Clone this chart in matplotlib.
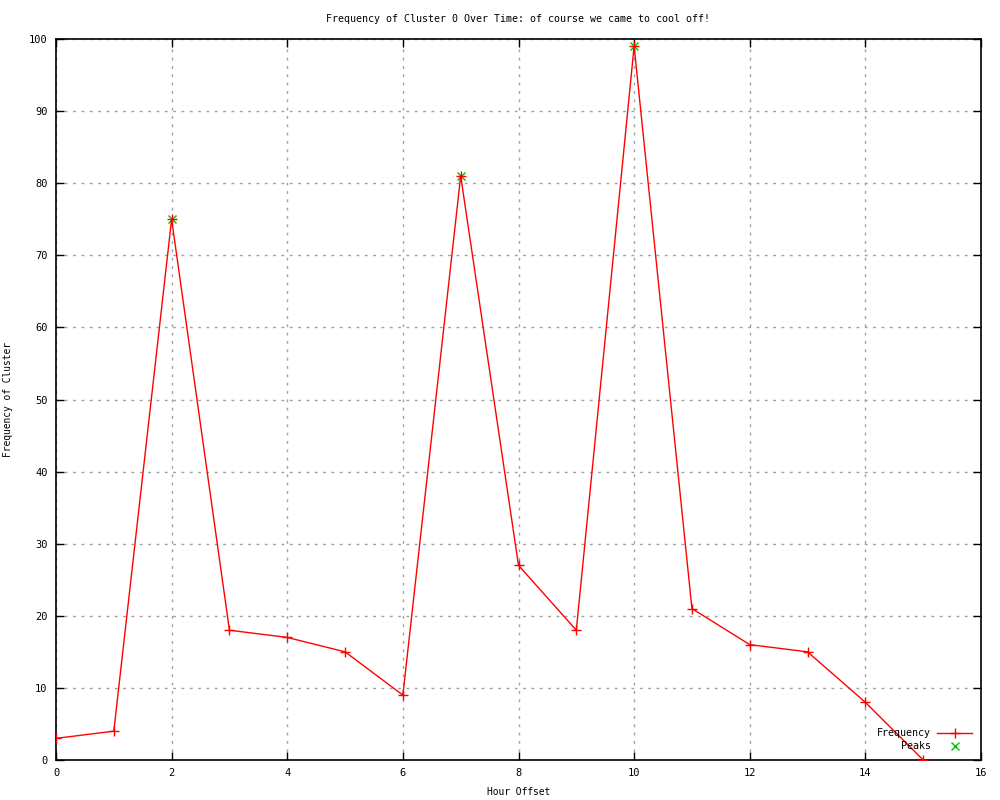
import matplotlib
matplotlib.use("Agg")
import matplotlib.pyplot as plt

hours = list(range(16))
freq = [3, 4, 75, 18, 17, 15, 9, 81, 27, 18, 99, 21, 16, 15, 8, 0]
peak_x = [2, 7, 10]
peak_y = [75, 81, 99]
xticks = list(range(0, 17, 2))
yticks = list(range(0, 101, 10))

plt.rcParams['font.family'] = ['DejaVu Sans Mono']
plt.rcParams['font.size'] = 8

fig = plt.figure(figsize=(10, 8), dpi=100)
ax = fig.add_axes([0.056, 0.05, 0.925, 0.90125])

ax.plot(hours, freq, color='#ff0000', lw=1, marker='+', ms=7, mew=1, label='Frequency', zorder=3)
ax.plot(peak_x, peak_y, ls='none', color='#00c000', marker='x', ms=6, mew=1, label='Peaks', zorder=2)

ax.set_xlim(0, 16)
ax.set_ylim(0, 100)
ax.set_xticks(xticks)
ax.set_yticks(yticks)
ax.grid(True, color='#a0a0a0', ls=(0, (2, 4)), lw=1)
ax.tick_params(direction='in', top=True, right=True, length=6, width=1, pad=6, labelsize=7.5)
for s in ax.spines.values():
    s.set_linewidth(1.2)

ax.set_title('Frequency of Cluster 0 Over Time: of course we came to cool off!', pad=12, fontsize=7.2)
ax.set_xlabel('Hour Offset', labelpad=6, fontsize=6.9)
ax.set_ylabel('Frequency of Cluster', labelpad=10, fontsize=6.9)
ax.yaxis.set_label_coords(-0.047, 0.5)

ax.legend(loc='lower right', frameon=False, markerfirst=False, handlelength=3.5,
          borderaxespad=0.5, labelspacing=0.3, handletextpad=0.6, fontsize=7.2)

fig.savefig('out.png', dpi=100)
